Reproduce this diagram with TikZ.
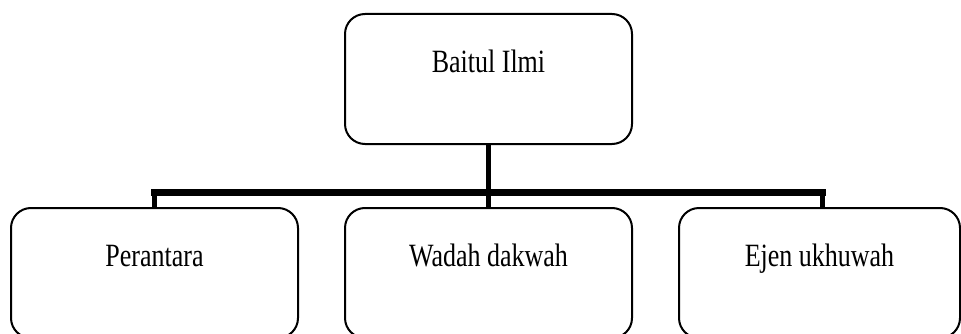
\documentclass[tikz,border=0pt]{standalone}
\usepackage{fontspec}
\setmainfont{Liberation Serif}[FakeStretch=0.8]
\begin{document}
\begin{tikzpicture}[x=1pt,y=1pt,
  box/.style={draw=black, line width=2pt, rounded corners=20pt, inner sep=0pt,
    text height=58pt, text depth=72pt, font=\fontsize{32.5}{36}\selectfont},
  vline/.style={line width=5pt},
  hline/.style={line width=7pt, line cap=rect}]
\useasboundingbox (0,0) rectangle (961,333);
\clip (0,0) rectangle (961,333);
\node[box, minimum width=287pt] (top) at (488.5,254) {Baitul Ilmi};
\node[box, minimum width=287pt] (left) at (154.5,60) {Perantara};
\node[box, minimum width=287pt] (mid) at (488.5,60) {Wadah dakwah};
\node[box, minimum width=281pt] (right) at (819.5,60) {Ejen ukhuwah};
\coordinate (jl) at (154,140.5);
\coordinate (jm) at (488.5,140.5);
\coordinate (jr) at (822,140.5);
\draw[hline] (jl) -- (jr);
\draw[vline] (top.south) -- (jm);
\draw[vline] (jl) -- (jl |- left.north);
\draw[vline] (jm) -- (jm |- mid.north);
\draw[vline] (jr) -- (jr |- right.north);
\end{tikzpicture}
\end{document}
